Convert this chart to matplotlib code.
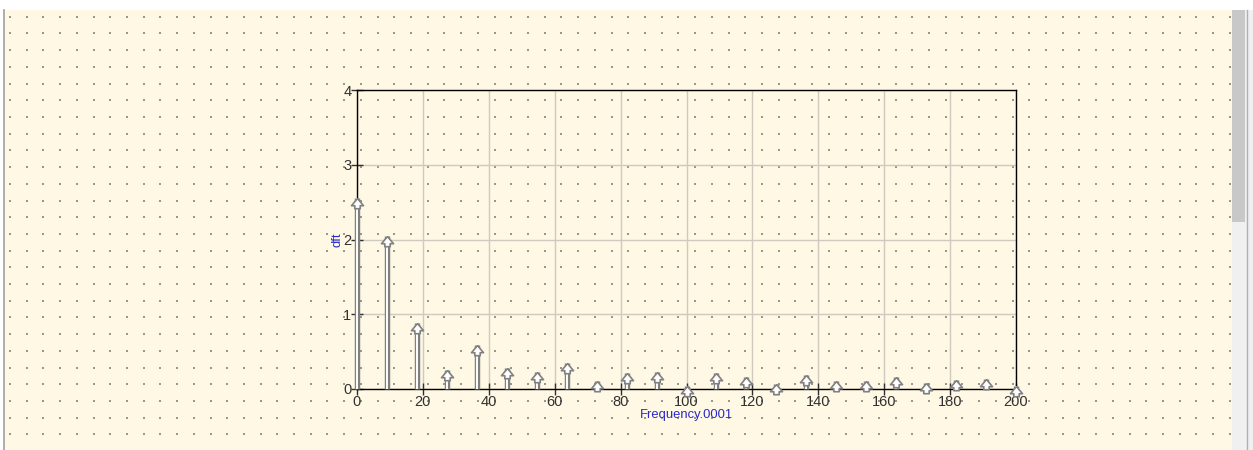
import matplotlib
matplotlib.use("Agg")
import matplotlib.pyplot as plt
from matplotlib.patches import Rectangle
import numpy as np

plt.rcParams['font.family'] = ['Liberation Sans', 'DejaVu Sans']

# spectre
freq = [0, 9.09, 18.18, 27.27, 36.36, 45.45, 54.55, 63.64, 72.73, 81.82, 90.91,
        100, 109.09, 118.18, 127.27, 136.36, 145.45, 154.55, 163.64, 172.73,
        181.82, 190.91, 200]
dft = [2.56, 2.05, 0.88, 0.25, 0.59, 0.28, 0.23, 0.35, 0.11, 0.22, 0.23,
       0.045, 0.21, 0.165, 0.067, 0.19, 0.11, 0.11, 0.165, 0.076, 0.12, 0.13, 0.04]

x_ticks = [0, 20, 40, 60, 80, 100, 120, 140, 160, 180, 200]
y_ticks = [0, 1, 2, 3, 4]

CREAM = '#fef8e4'
W, H = 1253, 450

fig = plt.figure(figsize=(W / 100, H / 100), dpi=100)
fig.patch.set_facecolor('white')

# fond de la fenetre (pixels)
bg = fig.add_axes([0, 0, 1, 1])
bg.set_xlim(0, W)
bg.set_ylim(H, 0)
bg.axis('off')
bg.add_patch(Rectangle((5, 10), 1227, 440, color=CREAM, lw=0))
bg.plot([4, 4], [10, 450], color='#a0a0a0', lw=1.2)
# barre de defilement
bg.add_patch(Rectangle((1232, 10), 21, 440, color='#f0f0f0', lw=0))
bg.add_patch(Rectangle((1232, 10), 13, 212, color='#c8c8c8', lw=0))
bg.plot([1247, 1247], [10, 450], color='#b0b0b0', lw=1)
# points de la grille
gx = np.arange(10, 1232, 16.71)
gy = np.arange(16.7, 450, 16.71)
xx, yy = np.meshgrid(gx, gy)
bg.scatter(xx.ravel(), yy.ravel(), s=1.0, color='#9c968a', lw=0, marker='s')

ax = fig.add_axes([357 / W, 61 / H, 659 / W, 299 / H])
ax.patch.set_alpha(0)
ax.set_xlim(0, 200)
ax.set_ylim(0, 4)
ax.set_xticks(x_ticks)
ax.set_yticks(y_ticks)
ax.grid(True, color='#cfcac0', lw=1)
ax.set_axisbelow(True)
for s in ax.spines.values():
    s.set_color('black')
    s.set_linewidth(1)
ax.tick_params(direction='inout', length=8, width=1, color='#303030',
               labelsize=10.5, labelcolor='#303030', pad=0)

# fleches
head = [(0, 0), (1, -1.2), (0.45, -1.2), (0.45, -1.7), (-0.45, -1.7),
        (-0.45, -1.2), (-1, -1.2), (0, 0)]
ax.vlines(freq, 0, dft, color='#808080', lw=3.9, zorder=3, clip_on=False)
ax.vlines(freq, 0, dft, color='white', lw=1.4, zorder=4, clip_on=False)
ax.plot(freq, dft, ls='none', marker=head, ms=14.7, mfc='white', mec='#808080',
        mew=1.2, zorder=5, clip_on=False)

ax.set_xlabel('Frequency.0001', color='#2a2ac8', fontsize=9.4, labelpad=0)
ax.set_ylabel('dft', color='#2a2ac8', fontsize=9.4, labelpad=0)

fig.savefig('out.png', dpi=100, facecolor=fig.get_facecolor())
